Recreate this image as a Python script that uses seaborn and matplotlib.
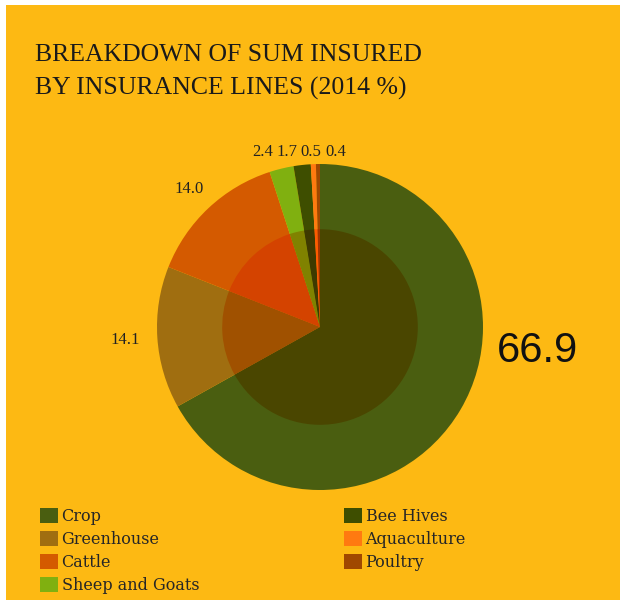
"""
Breakdown of sum insured by insurance lines (2014 %), donut-shaded pie.
"""
import matplotlib
matplotlib.use("Agg")
import matplotlib.pyplot as plt
import matplotlib.patches as mpatches
import seaborn as sns

# ── Data ──
LINES = ['Crop', 'Greenhouse', 'Cattle', 'Sheep and Goats',
         'Bee Hives', 'Aquaculture', 'Poultry']
SHARES = [66.9, 14.1, 14.0, 2.4, 1.7, 0.5, 0.4]
LABELS = ['66.9', '14.1', '14.0', '2.4', '1.7', '0.5', '0.4']
TITLE = ['BREAKDOWN OF SUM INSURED', 'BY INSURANCE LINES (2014 %)']

# ── Style ──
BG = '#FDB913'
PALETTE = sns.color_palette(['#4A5E10', '#A06E10', '#D45A00', '#80B010',
                             '#3E4E00', '#FF7A10', '#A04800'])
SLAB = ['DejaVu Serif']
NARROW = ['Liberation Serif', 'DejaVu Serif']

sns.set_theme(style='white')
plt.rcParams['font.family'] = SLAB

W, H = 620, 600
fig = plt.figure(figsize=(W / 100, H / 100), dpi=100, facecolor='white')
fig.patches.append(mpatches.Rectangle((6 / W, 0), 1, 1 - 5 / H,
                                      transform=fig.transFigure,
                                      facecolor=BG, edgecolor='none', zorder=-10))

# pie axes: centre (320, 327) px, radius 163 px
cx, cy, r = 320, 327, 163
ax = fig.add_axes([(cx - r) / W, (H - cy - r) / H, 2 * r / W, 2 * r / H])
ax.set_facecolor('none')

ax.pie(SHARES, colors=PALETTE, startangle=90, counterclock=False,
       radius=1.0, wedgeprops=dict(linewidth=0))

# inner darker disc: multiply-style shading with an orange tone
inner = [(c[0], c[1] * 0.74, 0.0) for c in PALETTE]
ax.pie(SHARES, colors=inner, startangle=90, counterclock=False,
       radius=0.6, wedgeprops=dict(linewidth=0))
ax.set_xlim(-1, 1)
ax.set_ylim(-1, 1)
ax.set_aspect('equal')
ax.axis('off')

# value labels
pos = [(1.337, -0.147), (-1.196, -0.08), (-0.80, 0.847), (-0.35, 1.074),
       (-0.205, 1.074), (-0.054, 1.074), (0.097, 1.074)]
for i, (lab, (x, y)) in enumerate(zip(LABELS, pos)):
    if i == 0:
        ax.text(x, y, lab, ha='center', va='center', fontsize=30,
                family=['Liberation Sans', 'DejaVu Sans'], color='#111111')
    else:
        ax.text(x, y, lab, ha='center', va='center', fontsize=12,
                family=NARROW, color='#222222')

# title
for k, line in enumerate(TITLE):
    fig.text(35 / W, 1 - (61 + 34 * k) / H, line, ha='left', va='baseline',
             fontsize=18.5, family=NARROW, color='#1a1a1a')

# legend in two columns
handles = [mpatches.Patch(facecolor=c, edgecolor='none', label=l)
           for c, l in zip(PALETTE, LINES)]
kw = dict(frameon=False, handlelength=1.1, handleheight=1.1,
          handletextpad=0.25, labelspacing=0.36, borderpad=0, borderaxespad=0,
          loc='upper left', prop={'family': SLAB, 'size': 11.5})
fig.legend(handles=handles[:4], bbox_to_anchor=(40 / W, 1 - 508 / H), **kw)
fig.legend(handles=handles[4:], bbox_to_anchor=(344 / W, 1 - 508 / H), **kw)

fig.savefig('out.png', dpi=100, facecolor='white')
